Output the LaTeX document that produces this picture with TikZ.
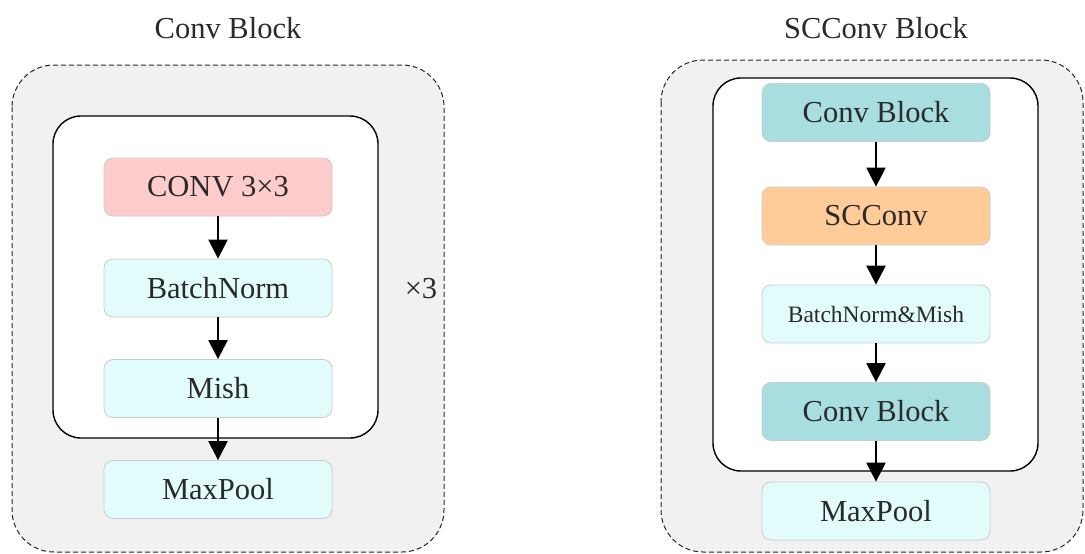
\documentclass[tikz,border=0pt]{standalone}
\usepackage{fontspec}
\setmainfont{Liberation Serif}
\usetikzlibrary{arrows.meta}
\definecolor{pinkfill}{HTML}{FFCCCC}
\definecolor{cyanfill}{HTML}{E2FCFC}
\definecolor{tealfill}{HTML}{A8DEE0}
\definecolor{orangefill}{HTML}{FFCC99}
\definecolor{outerfill}{HTML}{F1F1F1}
\definecolor{boxline}{HTML}{CCCCCC}
\definecolor{txt}{HTML}{2A2A2A}
\tikzset{
  blk/.style={draw=boxline, line width=0.8pt, rounded corners=9pt, minimum width=228pt, minimum height=58pt, inner sep=0pt, text=txt, font=\fontsize{30.5}{35}\selectfont},
  outerbox/.style={draw=black!85, dash pattern=on 5pt off 3pt, line width=1pt, fill=outerfill, rounded corners=42pt},
  innerbox/.style={draw=black, line width=1.4pt, fill=white, rounded corners=28pt},
  arr/.style={line width=2.4pt, -{Triangle[length=19pt,width=19pt]}},
  title/.style={text=txt, font=\fontsize{30.5}{35}\selectfont}
}
\begin{document}
\begin{tikzpicture}[x=1pt,y=-1pt]
\useasboundingbox (0,0) rectangle (1085,554);
% left panel
\draw[outerbox] (12,65) rectangle (444,552);
\draw[innerbox] (53,116) rectangle (378,438);
\node[title] (t1) at (228,28) {Conv Block};
\node[blk, fill=pinkfill] (c1) at (218,187) {CONV 3×3};
\node[blk, fill=cyanfill] (bn1) at (218,288) {BatchNorm};
\node[blk, fill=cyanfill] (m1) at (218,388.5) {Mish};
\node[blk, fill=cyanfill] (mp1) at (218,489.5) {MaxPool};
\node[title] (x3) at (421,289) {×3};
\draw[arr] (c1) -- (bn1);
\draw[arr] (bn1) -- (m1);
\draw[arr] (m1) -- (mp1);
% right panel
\draw[outerbox] (661,60) rectangle (1083,552);
\draw[innerbox] (713,78) rectangle (1038,471);
\node[title] (t2) at (876,28) {SCConv Block};
\node[blk, fill=tealfill] (cb1) at (876,112.5) {Conv Block};
\node[blk, fill=orangefill] (sc) at (876,216) {SCConv};
\node[blk, fill=cyanfill, font=\fontsize{23.5}{28}\selectfont] (bnm) at (876,314) {BatchNorm\&Mish};
\node[blk, fill=tealfill] (cb2) at (876,411.5) {Conv Block};
\node[blk, fill=cyanfill] (mp2) at (876,511) {MaxPool};
\draw[arr] (cb1) -- (sc);
\draw[arr] (sc) -- (bnm);
\draw[arr] (bnm) -- (cb2);
\draw[arr] (cb2) -- (mp2);
\end{tikzpicture}
\end{document}
